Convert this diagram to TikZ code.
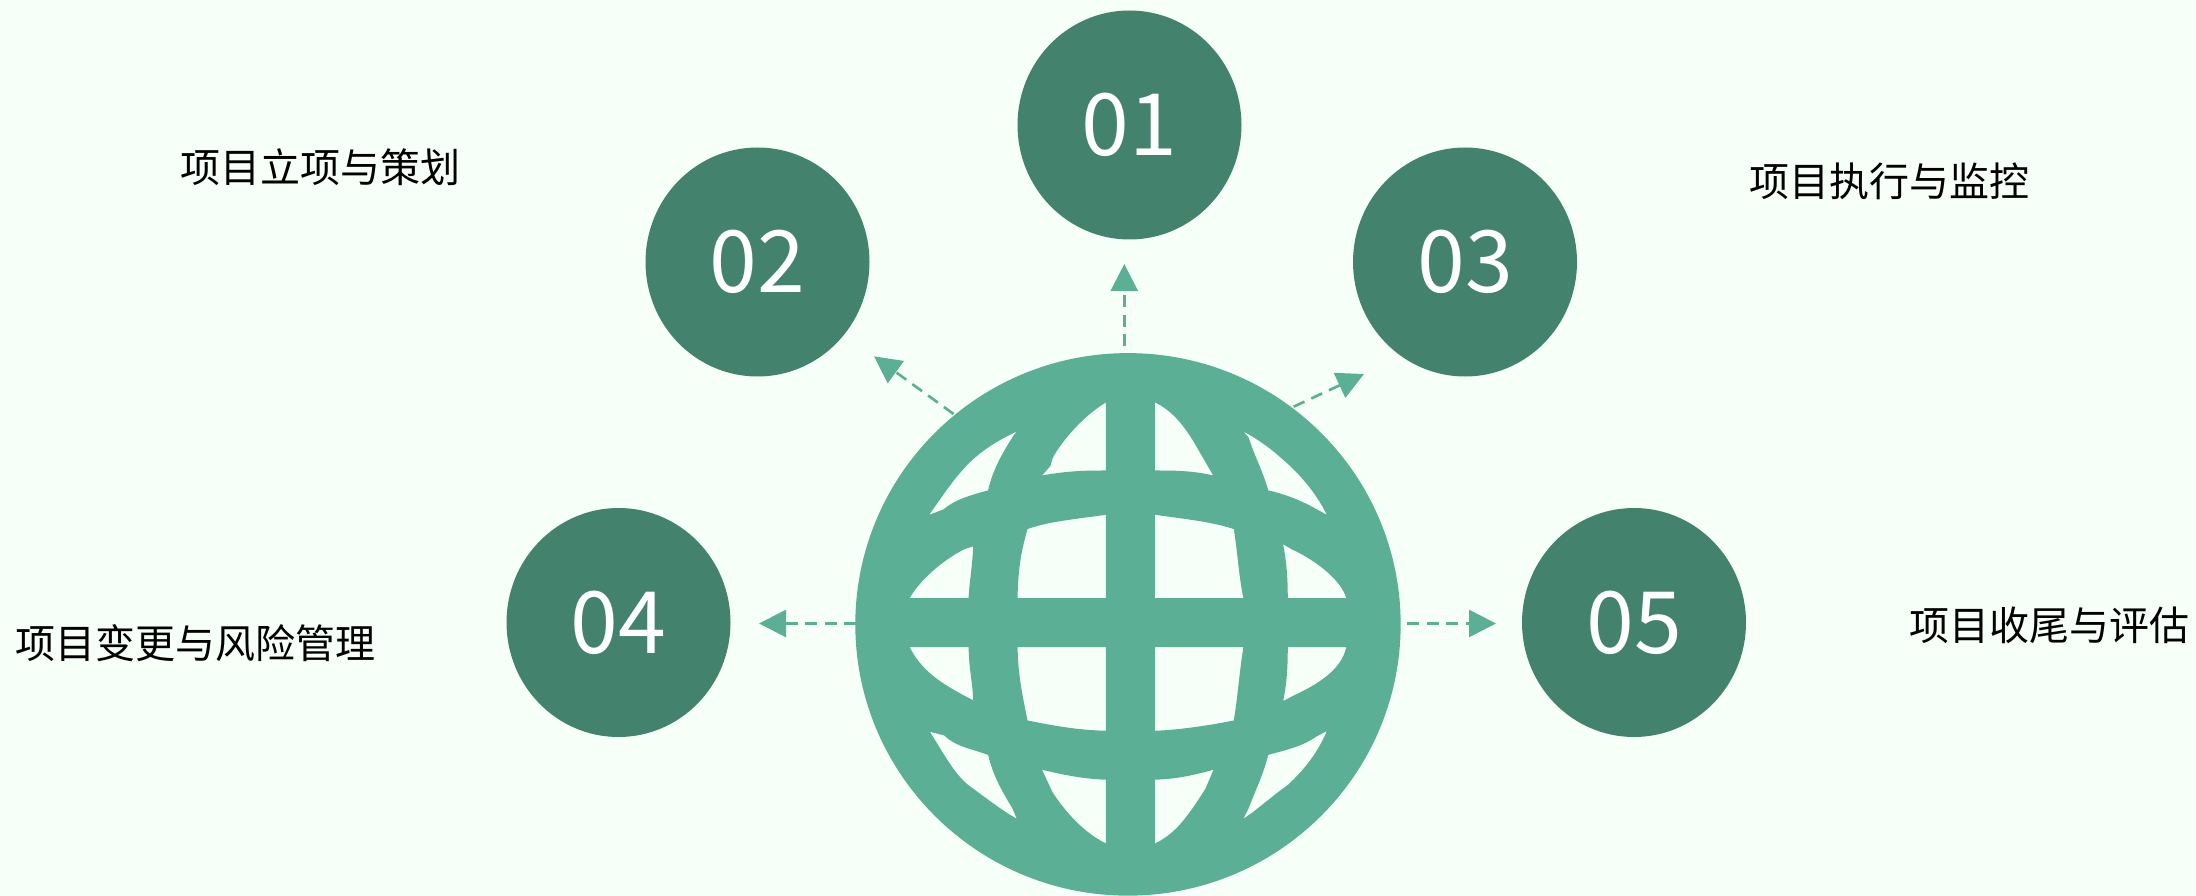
\documentclass[tikz,border=0pt]{standalone}
\usepackage{fontspec}
\newfontfamily\cjk{Noto Sans CJK SC}
\usetikzlibrary{shapes.geometric,arrows.meta}
\definecolor{bgc}{HTML}{F6FFF8}
\definecolor{globec}{HTML}{5BAF95}
\definecolor{circc}{HTML}{43836D}
\tikzset{
  numcircle/.style={ellipse,fill=circc,draw=none,minimum width=224pt,minimum height=229pt,inner sep=0pt,text=white,font=\cjk\fontsize{86}{100}\selectfont},
  lab/.style={text=black,inner sep=0pt,font=\cjk\fontsize{40}{48}\selectfont},
  link/.style={draw=globec,line width=2.6pt,dash pattern=on 12pt off 7.5pt,-{Triangle[length=27pt,width=27pt,fill=globec]}}
}
\begin{document}
\begin{tikzpicture}[x=1pt,y=-1pt]
\useasboundingbox (0,0) rectangle (2196,896);
\fill[bgc] (0,0) rectangle (2196,896);
\clip (0,0) rectangle (2196,896);
\node[numcircle] (n1) at (1129.5,125) {01};
\node[numcircle] (n2) at (757.5,262) {02};
\node[numcircle] (n3) at (1465,262) {03};
\node[numcircle] (n4) at (618.5,622.5) {04};
\node[numcircle] (n5) at (1634,622.5) {05};
\node[lab] (t1) at (320,167) {项目立项与策划};
\node[lab] (t2) at (1889,181) {项目执行与监控};
\node[lab] (t3) at (196,643) {项目变更与风险管理};
\node[lab] (t4) at (2049,625) {项目收尾与评估};
\coordinate (s1) at (1124.3,346);
\coordinate (e1) at (1124.3,264);
\coordinate (s2) at (953.6,414);
\coordinate (e2) at (874,356.3);
\coordinate (s3) at (1293.6,406.7);
\coordinate (e3) at (1364,374);
\coordinate (s4) at (856,623.5);
\coordinate (e4) at (759,623.5);
\coordinate (s5) at (1407,623.5);
\coordinate (e5) at (1496,623.5);
\draw[link] (s1) -- (e1);
\draw[link] (s2) -- (e2);
\draw[link] (s3) -- (e3);
\draw[link] (s4) -- (e4);
\draw[link] (s5) -- (e5);
\begin{scope}[shift={(840,340)},x=0.3827pt,y=-0.3546pt]
\fill[globec,even odd rule]
  (752.5,37) .. controls (1146,37) and (1465,379.5) .. (1465,802) .. controls (1465,1224.5) and (1146,1567) .. (752.5,1567) .. controls (359,1567) and (40,1224.5) .. (40,802) .. controls (40,379.5) and (359,37) .. (752.5,37) -- cycle
  (695,176) .. controls (620,225) and (565,310) .. (555,335) -- (550,355) -- (528,382) .. controls (600,368) and (650,368) .. (695,368) -- cycle
  (823,176) .. controls (890,210) and (925,290) .. (950,335) -- (975,382) .. controls (920,368) and (870,368) .. (823,368) -- cycle
  (462,258) .. controls (340,320) and (310,375) .. (233,493) -- (270,478) .. controls (300,450) and (340,438) .. (387,424) .. controls (400,360) and (430,310) .. (453,270) -- cycle
  (1054,258) -- (1068,275) .. controls (1080,320) and (1105,370) .. (1119,424) .. controls (1170,437) and (1210,455) .. (1250,480) -- (1272,493) .. controls (1230,400) and (1160,340) .. (1160,340) .. controls (1130,310) and (1100,285) .. (1054,258) -- cycle
  (490,533) .. controls (540,515) and (575,510) .. (695,493) -- (695,728) -- (464,728) .. controls (465,640) and (475,590) .. (490,533) -- cycle
  (823,493) .. controls (940,510) and (975,515) .. (1029,533) .. controls (1040,610) and (1042,665) .. (1054,728) -- (823,728) -- cycle
  (348,582) -- (325,590) .. controls (270,620) and (210,675) .. (182,728) -- (336,728) .. controls (338,680) and (346,640) .. (348,582) -- cycle
  (1158,576) -- (1180,590) .. controls (1250,625) and (1310,680) .. (1323,728) -- (1170,728) .. controls (1170,670) and (1167,630) .. (1158,576) -- cycle
  (182,866) -- (336,866) .. controls (337,930) and (346,960) .. (348,1016) -- (325,1003) .. controls (250,960) and (210,925) .. (182,866) -- cycle
  (1170,866) -- (1323,866) .. controls (1310,930) and (1250,970) .. (1185,1003) -- (1158,1018) .. controls (1168,965) and (1170,920) .. (1170,866) -- cycle
  (464,866) -- (695,866) -- (695,1102) .. controls (620,1100) and (560,1088) .. (490,1073) .. controls (472,980) and (465,930) .. (464,866) -- cycle
  (823,866) -- (1054,866) .. controls (1042,950) and (1040,1000) .. (1029,1073) .. controls (960,1088) and (880,1100) .. (823,1102) -- cycle
  (235,1105) -- (272,1115) .. controls (300,1145) and (340,1152) .. (387,1170) .. controls (400,1230) and (425,1275) .. (450,1320) -- (462,1350) .. controls (420,1325) and (380,1290) .. (335,1255) .. controls (300,1225) and (270,1165) .. (235,1105) -- cycle
  (1272,1103) -- (1245,1118) .. controls (1210,1145) and (1170,1155) .. (1119,1170) .. controls (1105,1230) and (1085,1270) .. (1068,1320) -- (1054,1350) .. controls (1090,1325) and (1130,1285) .. (1170,1255) .. controls (1215,1210) and (1250,1160) .. (1272,1103) -- cycle
  (528,1212) .. controls (590,1228) and (640,1238) .. (695,1240) -- (695,1420) .. controls (640,1390) and (595,1340) .. (555,1275) -- cycle
  (823,1240) .. controls (880,1238) and (920,1228) .. (976,1212) -- (955,1265) .. controls (900,1360) and (870,1395) .. (823,1420) -- cycle;
\end{scope}
\end{tikzpicture}
\end{document}
